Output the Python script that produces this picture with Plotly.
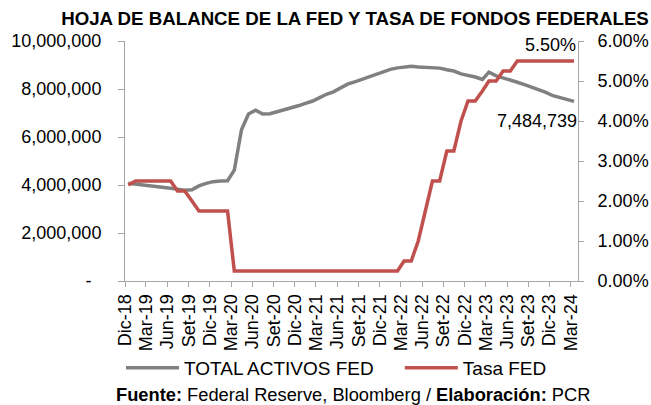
import pandas as pd
import plotly.graph_objects as go

# Monthly observation dates (mid-month), Dec-2018 .. Mar-2024
dates = list(pd.date_range("2018-12-01", "2024-03-01", freq="MS") + pd.Timedelta(days=14))

# Total assets of the Fed (millions USD)
total_activos = [
    4070000,                                                     # 2018 Dec
    4040000, 4000000, 3960000, 3930000, 3900000, 3860000,        # 2019
    3820000, 3780000, 3800000, 3960000, 4070000, 4140000,
    4170000, 4180000, 4620000, 6300000, 6960000, 7120000,        # 2020
    6960000, 6970000, 7050000, 7120000, 7200000, 7300000,
    7400000, 7500000, 7630000, 7780000, 7880000, 8050000,        # 2021
    8200000, 8300000, 8400000, 8520000, 8630000, 8720000,
    8820000, 8880000, 8930000, 8950000, 8920000, 8910000,        # 2022
    8890000, 8870000, 8800000, 8750000, 8630000, 8580000,
    8500000, 8400000, 8700000, 8550000, 8470000, 8380000,        # 2023
    8280000, 8180000, 8080000, 7980000, 7860000, 7720000,
    7650000, 7570000, 7484739,                                   # 2024
]

# Fed funds rate (upper bound, %)
tasa_fed = [
    2.40,
    2.50, 2.50, 2.50, 2.50, 2.50, 2.50,
    2.25, 2.25, 2.00, 1.75, 1.75, 1.75,
    1.75, 1.75, 0.25, 0.25, 0.25, 0.25,
    0.25, 0.25, 0.25, 0.25, 0.25, 0.25,
    0.25, 0.25, 0.25, 0.25, 0.25, 0.25,
    0.25, 0.25, 0.25, 0.25, 0.25, 0.25,
    0.25, 0.25, 0.50, 0.50, 1.00, 1.75,
    2.50, 2.50, 3.25, 3.25, 4.00, 4.50,
    4.50, 4.75, 5.00, 5.00, 5.25, 5.25,
    5.50, 5.50, 5.50, 5.50, 5.50, 5.50,
    5.50, 5.50, 5.50,
]

tick_dates = list(pd.date_range("2018-12-01", "2024-03-01", freq="3MS"))
tick_labels = ["Dic-18", "Mar-19", "Jun-19", "Set-19", "Dic-19", "Mar-20", "Jun-20",
               "Set-20", "Dic-20", "Mar-21", "Jun-21", "Set-21", "Dic-21", "Mar-22",
               "Jun-22", "Set-22", "Dic-22", "Mar-23", "Jun-23", "Set-23", "Dic-23",
               "Mar-24"]

left_vals = [0, 2000000, 4000000, 6000000, 8000000, 10000000]
left_text = ["-\u00a0\u00a0", "2,000,000", "4,000,000", "6,000,000", "8,000,000", "10,000,000"]
right_vals = [0, 1, 2, 3, 4, 5, 6]
right_text = ["0.00%", "1.00%", "2.00%", "3.00%", "4.00%", "5.00%", "6.00%"]

series_names = ["TOTAL ACTIVOS FED", "Tasa FED"]

FONT = "Liberation Sans, Arial, sans-serif"
GRAY = "#808080"
RED = "#C0504D"
AXC = "#A6A6A6"
PAD = "\u00a0" * 4

fig = go.Figure()
fig.add_trace(go.Scatter(x=dates, y=total_activos, mode="lines", name=series_names[0] + PAD,
                         line=dict(color=GRAY, width=3.5), yaxis="y"))
fig.add_trace(go.Scatter(x=dates, y=tasa_fed, mode="lines", name=series_names[1],
                         line=dict(color=RED, width=3.5), yaxis="y2"))

fig.add_annotation(x=dates[-1], y=tasa_fed[-1], xref="x", yref="y2",
                   text=f"{tasa_fed[-1]:.2f}%", showarrow=False,
                   xanchor="right", yanchor="bottom", xshift=4, yshift=4,
                   font=dict(size=18, color="black", family=FONT))
fig.add_annotation(x=dates[-1], y=total_activos[-1], xref="x", yref="y",
                   text=f"{total_activos[-1]:,}", showarrow=False,
                   xanchor="right", yanchor="top", xshift=5, yshift=-8,
                   font=dict(size=18, color="black", family=FONT))
fig.add_annotation(x=0.503, y=-(394 - 281) / 240, xref="paper", yref="paper",
                   text="<b>Fuente:</b> Federal Reserve, Bloomberg / <b>Elaboración:</b> PCR",
                   showarrow=False, xanchor="center", yanchor="middle",
                   font=dict(size=18.3, color="black", family=FONT))

fig.update_layout(
    width=651, height=405,
    margin=dict(l=125, r=73, t=41, b=124, autoexpand=False),
    paper_bgcolor="white", plot_bgcolor="white",
    font=dict(family=FONT, size=18, color="black"),
    title=dict(text="<b>HOJA DE BALANCE DE LA FED Y TASA DE FONDOS FEDERALES</b>",
               x=355 / 651, xanchor="center", y=1 - 18 / 405, yanchor="middle",
               font=dict(size=18.7, color="black", family=FONT)),
    showlegend=True,
    legend=dict(orientation="h", xref="container", yref="container",
                x=121 / 651, xanchor="left", y=1 - 368 / 405, yanchor="middle",
                font=dict(size=19, family=FONT), itemwidth=53,
                bgcolor="rgba(0,0,0,0)"),
    xaxis=dict(type="date", range=["2018-12-01", "2024-04-01"], automargin=False,
               tickmode="array", tickvals=tick_dates, ticktext=tick_labels,
               tickangle=-90, ticks="outside", ticklen=5, tickcolor=AXC,
               showline=True, linecolor=AXC, linewidth=1, showgrid=False, zeroline=False,
               tickfont=dict(size=18)),
    yaxis=dict(range=[0, 10000000], tickmode="array", tickvals=left_vals, ticktext=left_text,
               automargin=False,
               ticks="outside", ticklen=6, tickcolor=AXC, showline=True, linecolor=AXC,
               linewidth=1, showgrid=False, zeroline=False, ticklabelstandoff=13,
               tickfont=dict(size=18)),
    yaxis2=dict(range=[0, 6], overlaying="y", side="right", tickmode="array",
                tickvals=right_vals, ticktext=right_text, automargin=False,
                ticks="outside", ticklen=5, tickcolor=AXC, showline=True, linecolor=AXC,
                linewidth=1, showgrid=False, zeroline=False, ticklabelstandoff=10,
                tickfont=dict(size=18)),
)

fig.write_html("out.html", config={"displayModeBar": False},
               post_script="document.body.style.margin='0';")
